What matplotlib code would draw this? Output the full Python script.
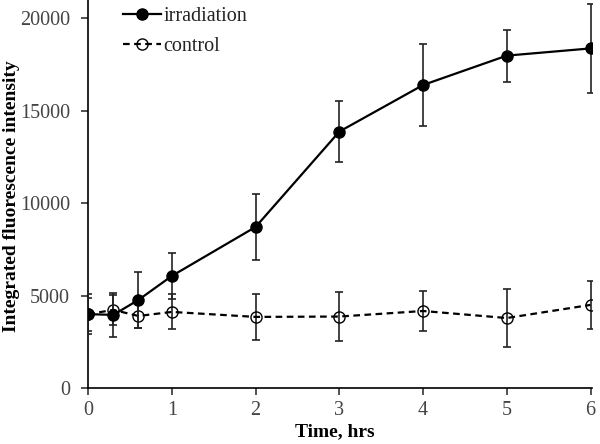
import numpy as np
import matplotlib
matplotlib.use('Agg')
import matplotlib.pyplot as plt
from matplotlib.lines import Line2D

plt.rcParams['font.family'] = ['Liberation Serif', 'DejaVu Serif']

# time points (hrs)
t = [0, 0.3, 0.6, 1, 2, 3, 4, 5, 6]

# irradiation series
irr_mean = [4000, 3960, 4770, 6070, 8720, 13880, 16400, 17990, 18380]
irr_err = [1100, 1200, 1500, 1250, 1780, 1660, 2240, 1410, 2390]

# control series
ctl_mean = [4000, 4230, 3900, 4120, 3850, 3870, 4170, 3790, 4500]
ctl_err = [900, 800, 650, 950, 1250, 1330, 1100, 1580, 1280]

fig = plt.figure(figsize=(6, 4.44), dpi=100)
ax = fig.add_axes([0.147, 0.126, 0.84, 0.874])

ax.errorbar(t, irr_mean, yerr=irr_err, color='black', lw=1.6, marker='o',
            ms=8, mfc='black', mec='black', ecolor='#222222', elinewidth=1.2,
            capsize=3, capthick=1.2, zorder=3)
ax.errorbar(t, ctl_mean, yerr=ctl_err, color='black', lw=1.6, ls=(0, (3, 2)),
            marker='o', ms=8, mfc='none', mec='black', ecolor='#222222',
            elinewidth=1.2, capsize=3, capthick=1.2, zorder=2)

ax.set_xlim(0, 6.02)
ax.set_ylim(0, 21000)
ax.set_xticks([0, 1, 2, 3, 4, 5, 6])
ax.set_yticks([0, 5000, 10000, 15000, 20000])
for s in ['top', 'right']:
    ax.spines[s].set_visible(False)
for s in ['left', 'bottom']:
    ax.spines[s].set_linewidth(1.2)
ax.tick_params(direction='out', length=5, width=1.2, labelsize=14.5,
               colors='#333333', labelcolor='#444444')
ax.tick_params(axis='y', pad=8)
ax.tick_params(axis='x', pad=4)

ax.set_xlabel('Time, hrs', fontsize=14, fontweight='bold')
ax.xaxis.set_label_coords(0.49, -0.09)
ax.set_ylabel('Integrated fluorescence intensity', fontsize=14,
              fontweight='bold')
ax.yaxis.set_label_coords(-0.135, 0.495)

handles = [
    Line2D([], [], color='black', lw=1.6, marker='o', ms=8, mfc='black'),
    Line2D([], [], color='black', lw=1.6, ls=(0, (3, 2)), marker='o', ms=8,
           mfc='none'),
]
leg = ax.legend(handles, ['irradiation', 'control'], loc='upper left',
                bbox_to_anchor=(0.034, 1.03), frameon=False,
                prop={'family': 'Liberation Serif', 'size': 14.5},
                handlelength=1.85, handletextpad=0.15, labelspacing=0.55)
for txt in leg.get_texts():
    txt.set_color('#222222')

fig.savefig('out.png', dpi=100)
